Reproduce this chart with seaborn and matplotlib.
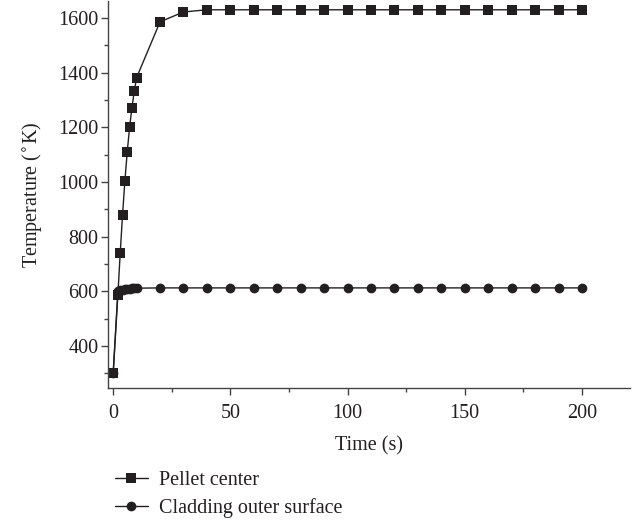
import matplotlib
matplotlib.use("Agg")
import matplotlib.pyplot as plt
import seaborn as sns
import pandas as pd
from matplotlib.ticker import MultipleLocator

sns.set_theme(style="ticks")
plt.rcParams['font.family'] = ['Liberation Serif', 'DejaVu Serif']

pellet_time = [0, 2, 3, 4, 5, 6, 7, 8, 9, 10, 20, 30, 40, 50, 60, 70, 80, 90, 100,
               110, 120, 130, 140, 150, 160, 170, 180, 190, 200]
pellet_temp = [300, 587, 740, 880, 1005, 1110, 1200, 1272, 1332, 1382, 1586, 1622, 1630,
               1630, 1630, 1630, 1630, 1630, 1630, 1630, 1630, 1630, 1630, 1630, 1630,
               1630, 1630, 1630, 1630]

clad_time = [0, 2, 3, 4, 5, 6, 7, 8, 9, 10, 20, 30, 40, 50, 60, 70, 80, 90, 100,
             110, 120, 130, 140, 150, 160, 170, 180, 190, 200]
clad_temp = [300, 600, 604, 606, 608, 609, 610, 611, 611, 612, 613, 613, 613, 613, 613,
             613, 613, 613, 613, 613, 613, 613, 613, 613, 613, 613, 613, 613, 613]

series_names = ["Pellet center", "Cladding outer surface"]

df_p = pd.DataFrame({"Time": pellet_time, "Temp": pellet_temp})
df_c = pd.DataFrame({"Time": clad_time, "Temp": clad_temp})

fig = plt.figure(figsize=(6.38, 5.2), dpi=100)
ax = fig.add_axes([0.1693, 0.2544, 0.8182, 0.7436])

col = "#231f20"
fs = 14.5
sns.lineplot(data=df_p, x="Time", y="Temp", ax=ax, color=col, marker="s",
             markersize=6.5, markeredgewidth=0, linewidth=1.0, label=series_names[0])
sns.lineplot(data=df_c, x="Time", y="Temp", ax=ax, color=col, marker="o",
             markersize=7, markeredgewidth=0, linewidth=1.0, label=series_names[1])

ax.set_xlim(-2.2, 220.5)
ax.set_ylim(248, 1662)
ax.set_xticks([0, 50, 100, 150, 200])
ax.set_yticks([400, 600, 800, 1000, 1200, 1400, 1600])
ax.xaxis.set_minor_locator(MultipleLocator(25))
ax.yaxis.set_minor_locator(MultipleLocator(100))

for s in ["top", "right"]:
    ax.spines[s].set_visible(False)
for s in ["left", "bottom"]:
    ax.spines[s].set_color("#444444")
    ax.spines[s].set_linewidth(1.0)

ax.tick_params(axis="both", which="major", direction="out", length=5, width=1,
               color="#444444", labelsize=fs, labelcolor="#231f20")
ax.tick_params(axis="both", which="minor", direction="out", length=3, width=1,
               color="#444444")
ax.tick_params(axis="x", which="major", pad=7)
ax.tick_params(axis="y", which="major", pad=2)

ax.set_xlabel("Time (s)", fontsize=fs, color="#231f20", labelpad=9)
ax.set_ylabel("Temperature ($^{\\circ}$K)", fontsize=fs, color="#231f20", labelpad=10)

ax.get_legend().remove()
h, l = ax.get_legend_handles_labels()
fig.legend(h, l, loc="upper left", bbox_to_anchor=(0.180, 0.095), frameon=False,
           fontsize=fs, handlelength=1.65, handletextpad=0.55, labelspacing=0.4,
           labelcolor="#231f20", borderaxespad=0, borderpad=0)

fig.savefig("out.png", dpi=100)
